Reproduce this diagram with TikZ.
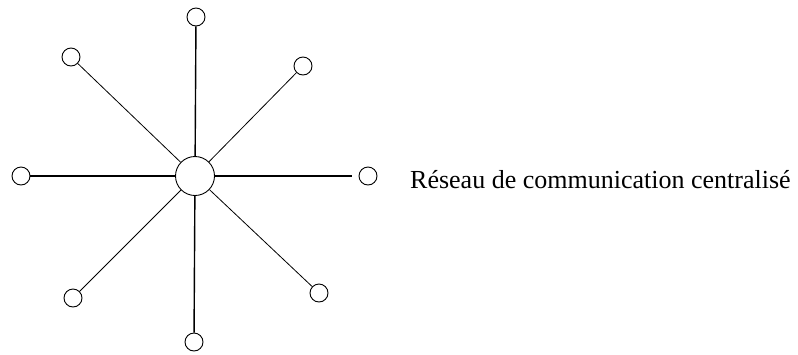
\documentclass[tikz,border=0pt]{standalone}
\usepackage{fontspec}
\setmainfont{Liberation Serif}
\begin{document}
\begin{tikzpicture}[x=1pt,y=-1pt,
  leaf/.style={draw,circle,inner sep=0pt,minimum size=18pt,line width=0.9pt},
  hub/.style={draw,circle,inner sep=0pt,minimum size=39pt,line width=0.9pt},
  axis/.style={line width=1.4pt},
  diag/.style={line width=0.8pt}]
\useasboundingbox (0,0) rectangle (798,354);
\node[hub] (c) at (195,176) {};
\node[leaf] (t) at (196,17) {};
\node[leaf] (tl) at (71,57) {};
\node[leaf] (tr) at (303,66) {};
\node[leaf] (l) at (21,176) {};
\node[leaf] (r) at (368,176) {};
\node[leaf] (bl) at (73,298) {};
\node[leaf] (br) at (319,293) {};
\node[leaf] (b) at (194,342) {};
\draw[axis] (c) -- (t);
\draw[axis] (c) -- (b);
\draw[axis] (c) -- (l);
\draw[axis,shorten >=7pt] (c) -- (r);
\draw[diag] (c) -- (tl);
\draw[diag] (c) -- (tr);
\draw[diag] (c) -- (bl);
\draw[diag] (c) -- (br);
\node[anchor=base west,font=\fontsize{26}{30}\selectfont,inner sep=0pt] (lab) at (410,188) {Réseau de communication centralisé};
\end{tikzpicture}
\end{document}
